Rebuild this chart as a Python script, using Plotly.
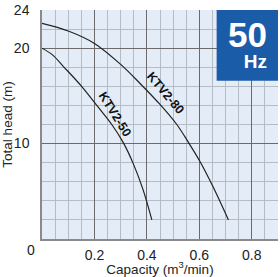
import plotly.graph_objects as go

# Data
q_80 = [0, 0.1, 0.2, 0.3, 0.374, 0.45, 0.514, 0.559, 0.603, 0.65, 0.711]
h_80 = [22.6, 21.8, 20.5, 18.3, 16.3, 14.1, 12.0, 10.1, 8.1, 5.6, 2.0]

q_50 = [0, 0.04, 0.081, 0.151, 0.209, 0.266, 0.310, 0.348, 0.385, 0.419]
h_50 = [20.0, 19.3, 18.1, 16.0, 14.0, 12.0, 10.1, 7.9, 5.2, 2.0]

x_ticks = [0.2, 0.4, 0.6, 0.8]
x_ticktext = ["0.2", "0.4", "0.6", "0.8"]
y_ticks = [10, 20, 24]
y_ticktext = ["10", "20", "24"]

FONT = "Arial, Liberation Sans, sans-serif"

fig = go.Figure()
for q, h in [(q_80, h_80), (q_50, h_50)]:
    fig.add_trace(go.Scatter(x=q, y=h, mode="lines",
                             line=dict(color="#222222", width=1.2, shape="spline", smoothing=1.0),
                             showlegend=False, hoverinfo="skip"))

fig.update_layout(
    width=280, height=277,
    margin=dict(l=42, r=2, t=7, b=38),
    paper_bgcolor="white",
    plot_bgcolor="#e4edf7",
    font=dict(family=FONT, size=13, color="#222222"),
    xaxis=dict(range=[0, 0.9], tickmode="array", tickvals=x_ticks, ticktext=x_ticktext,
               showgrid=True, gridcolor="#6b6b6b", gridwidth=1, zeroline=False,
               showline=True, linecolor="#8a8a8a", linewidth=1.5, ticks="", ticklabelstandoff=2,
               tickfont=dict(size=14), ticklabeloverflow="allow",
               minor=dict(tickmode="linear", tick0=0, dtick=0.05, showgrid=True, gridcolor="#b4bcc6", gridwidth=1, ticks=""),
               title=dict(text="Capacity (m<sup>3</sup>/min)", font=dict(size=13.5), standoff=2),
               fixedrange=True),
    yaxis=dict(range=[0, 24], tickmode="array", tickvals=y_ticks, ticktext=y_ticktext,
               showgrid=True, gridcolor="#6b6b6b", gridwidth=1, zeroline=False,
               showline=True, linecolor="#8a8a8a", linewidth=1.5, ticks="", ticklabelstandoff=8,
               tickfont=dict(size=14), ticklabeloverflow="allow",
               minor=dict(tickmode="linear", tick0=0, dtick=2, showgrid=True, gridcolor="#b4bcc6", gridwidth=1, ticks=""),
               title=dict(text="Total head (m)", font=dict(size=13.5), standoff=0),
               fixedrange=True),
)

fig.add_annotation(xref="paper", yref="paper", x=-0.047, y=-0.046, xanchor="center", yanchor="middle",
                   text="0", showarrow=False, font=dict(size=14, color="#222222"))

# Curve labels
fig.add_annotation(x=0.469, y=15.25, xanchor="center", yanchor="middle", text="<b>KTV2-80</b>",
                   textangle=50, showarrow=False, font=dict(size=12.5, color="#111111"))
fig.add_annotation(x=0.277, y=13.1, xanchor="center", yanchor="middle", text="<b>KTV2-50</b>",
                   textangle=58, showarrow=False, font=dict(size=12.5, color="#111111"))

# 50 Hz box
fig.add_shape(type="rect", xref="paper", yref="paper", x0=0.740, x1=1.0, y0=0.691, y1=1.0,
              fillcolor="#1b5ca8", line=dict(width=0), layer="above")
fig.add_annotation(xref="paper", yref="paper", x=0.961, y=0.852, xanchor="right", yanchor="middle",
                   align="right",
                   text="<b><span style='font-size:35px'>50</span></b><br><b><span style='font-size:19px'>Hz</span></b>",
                   showarrow=False, font=dict(size=16, color="white"))

fig.write_html("out.html")
